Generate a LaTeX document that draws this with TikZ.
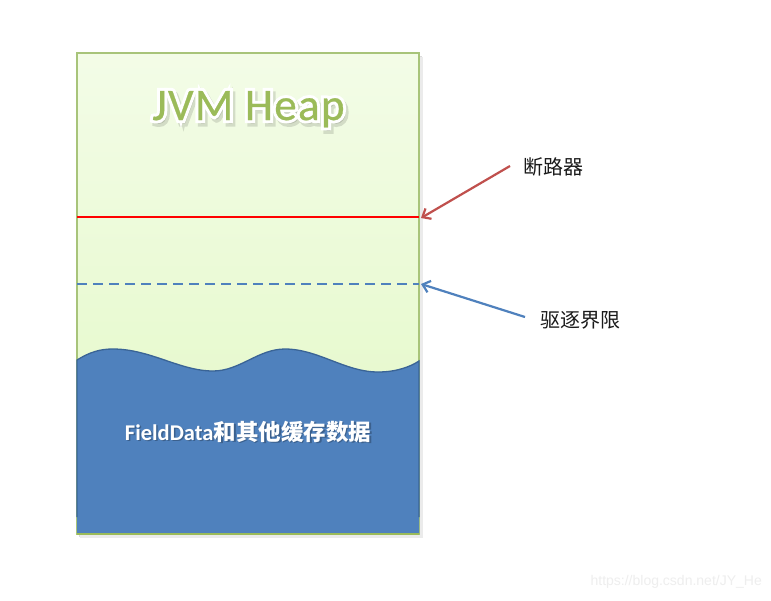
\documentclass[tikz,border=0pt]{standalone}
\usepackage{fontspec}
\setmainfont{Carlito}
\newfontfamily\cjk{Noto Sans CJK SC}
\newfontfamily\cjkb{Noto Sans CJK SC Bold}
\newfontfamily\wmfont{Liberation Sans}
\newfontfamily\titlefont[FakeBold=0.6,LetterSpace=3]{Carlito}
\newfontfamily\titleoutline[FakeBold=14,LetterSpace=3]{Carlito}
\usetikzlibrary{arrows.meta,shadings,calc}
\definecolor{heapTop}{HTML}{F3FCE7}
\definecolor{heapBot}{HTML}{E2F8C4}
\definecolor{heapEdge}{HTML}{A8C47A}
\definecolor{olive}{HTML}{9BBB59}
\definecolor{cacheBlue}{HTML}{4F81BD}
\definecolor{cacheEdge}{HTML}{3A6496}
\definecolor{arrowRed}{HTML}{C0504D}
\definecolor{lblInk}{HTML}{1A1A1A}
\definecolor{wmGray}{HTML}{EEEEEE}
\tikzset{
  heapbox/.style={draw=heapEdge, line width=1.2pt, top color=heapTop, bottom color=heapBot},
  breakerline/.style={draw=red, line width=1.8pt},
  evictline/.style={draw=cacheBlue, line width=1.8pt, dash pattern=on 9.5pt off 6.5pt},
  redarrow/.style={draw=arrowRed, line width=2.2pt, -{Straight Barb[length=7pt,width=12pt]}},
  bluearrow/.style={draw=cacheBlue, line width=2.2pt, -{Straight Barb[length=7pt,width=12pt]}},
  sidelabel/.style={font=\cjk\fontsize{20}{24}\selectfont, text=lblInk, inner sep=0pt, anchor=west},
  titletext/.style={font=\titlefont\fontsize{45}{50}\selectfont, inner sep=0pt, anchor=base},
  titleedge/.style={font=\titleoutline\fontsize{45}{50}\selectfont, inner sep=0pt, anchor=base},
  cachetext/.style={font=\fontsize{22.5}{26}\selectfont\bfseries, inner sep=0pt, anchor=base},
}
\newcommand{\heapword}{JVM Heap}
\newcommand{\cacheword}{FieldData{\cjkb 和其他缓存数据}}
\begin{document}
\begin{tikzpicture}[x=1pt,y=-1pt]
\useasboundingbox (0,0) rectangle (771,600);
\fill[white] (0,0) rectangle (771,600);
% shadow of the box
\fill[black!14] (79,56) rectangle (422,537);
\fill[black!8] (80,57) rectangle (423,538);
% heap box
\path[heapbox] (77,53) rectangle (419,534);
% cache region (wave)
\fill[cacheBlue] (77,360) .. controls (90,352) and (100,349) .. (113,349)
  .. controls (150,349) and (180,371) .. (213,371)
  .. controls (240,371) and (258,349) .. (285,349)
  .. controls (318,349) and (345,372) .. (378,372)
  .. controls (396,372) and (410,367) .. (419,361)
  -- (419,534) -- (77,534) -- cycle;
\draw[cacheEdge, line width=1.3pt] (77,517) -- (77,360) .. controls (90,352) and (100,349) .. (113,349)
  .. controls (150,349) and (180,371) .. (213,371)
  .. controls (240,371) and (258,349) .. (285,349)
  .. controls (318,349) and (345,372) .. (378,372)
  .. controls (396,372) and (410,367) .. (419,361) -- (419,517);
\draw[olive, line width=1.6pt] (77,534) -- (419,534);
% lines
\coordinate (brkL) at (77,217);
\coordinate (brkR) at (419,217);
\coordinate (evL) at (77,284);
\coordinate (evR) at (419,284);
\draw[breakerline] (brkL) -- (brkR);
\draw[evictline] (evL) -- (evR);
% title with outline and shadow
\node[titleedge, text=black, opacity=0.12] at (251,123.5) {\heapword};
\node[titleedge, text=white] at (248.5,120) {\heapword};
\node[titletext, text=olive] (title) at (248.5,120) {\heapword};
% cache text
\node[cachetext, text=black, opacity=0.25] at (249.5,441) {\cacheword};
\node[cachetext, text=white] (cache) at (248,440) {\cacheword};
% labels and arrows
\node[sidelabel] (brk) at (523,167) {断路器};
\node[sidelabel] (evict) at (540,320) {驱逐界限};
\coordinate (brkStart) at (510,166);
\coordinate (brkTip) at (421,218);
\coordinate (evStart) at (525,317);
\coordinate (evTip) at (421,284);
\draw[redarrow] (brkStart) -- (brkTip);
\draw[bluearrow] (evStart) -- (evTip);
% watermark
\node[font=\wmfont\fontsize{14}{16}\selectfont, text=wmGray, anchor=east, inner sep=0pt] (wm) at (762,582) {https://blog.csdn.net/JY\_He};
\end{tikzpicture}
\end{document}
